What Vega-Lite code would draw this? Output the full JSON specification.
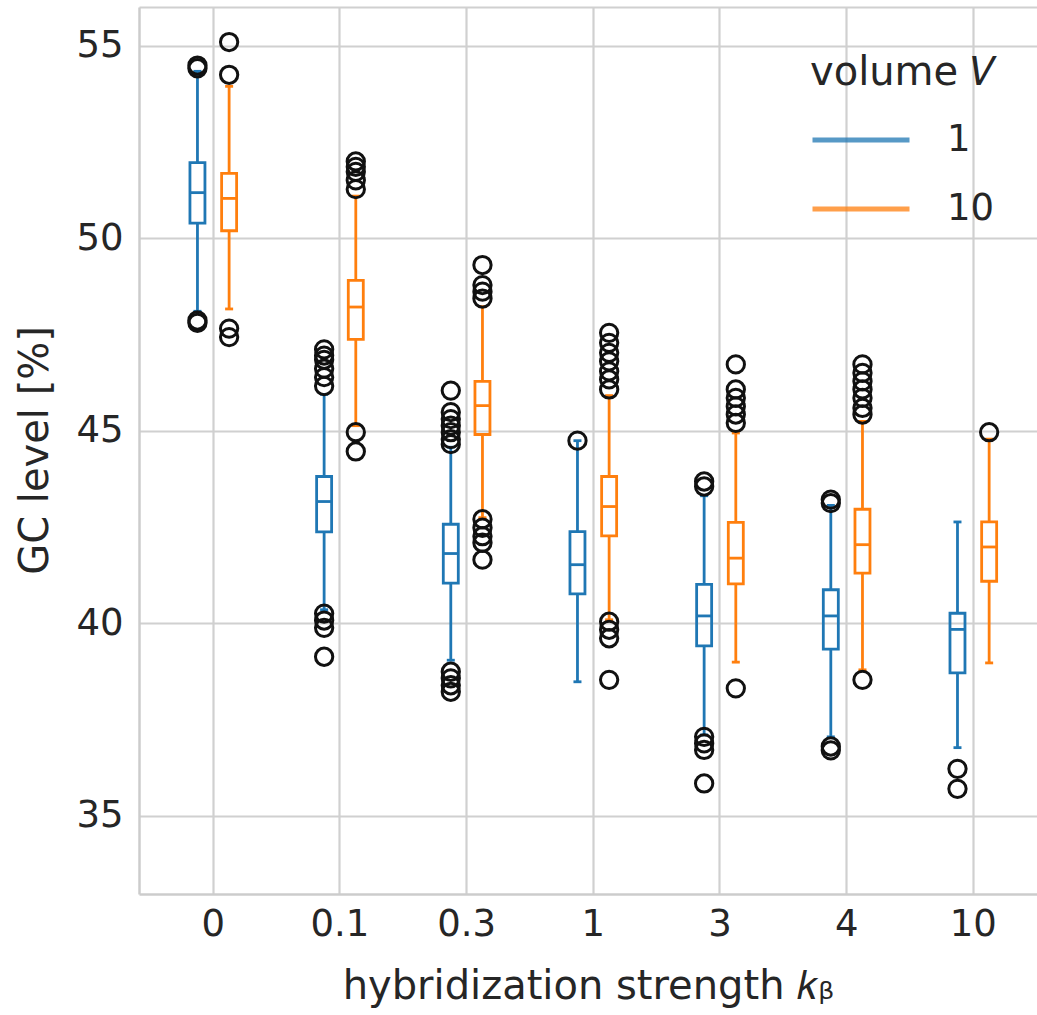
{
  "$schema": "https://vega.github.io/schema/vega-lite/v6.json",
  "width": 898,
  "height": 887,
  "autosize": "none",
  "padding": {"left": 139, "top": 7, "right": 0, "bottom": 121},
  "background": "white",
  "datasets": {
    "boxes": [
      {"k": "0", "V": "1", "lo": 48.1, "q1": 50.39, "med": 51.18, "q3": 51.96, "hi": 54.33},
      {"k": "0", "V": "10", "lo": 48.16, "q1": 50.19, "med": 51.03, "q3": 51.68, "hi": 53.94},
      {"k": "0.1", "V": "1", "lo": 40.35, "q1": 42.37, "med": 43.16, "q3": 43.81, "hi": 45.94},
      {"k": "0.1", "V": "10", "lo": 45.13, "q1": 47.37, "med": 48.21, "q3": 48.9, "hi": 51.09},
      {"k": "0.3", "V": "1", "lo": 39.04, "q1": 41.04, "med": 41.81, "q3": 42.57, "hi": 44.57},
      {"k": "0.3", "V": "10", "lo": 42.74, "q1": 44.9, "med": 45.65, "q3": 46.28, "hi": 48.22},
      {"k": "1", "V": "1", "lo": 38.48, "q1": 40.76, "med": 41.52, "q3": 42.38, "hi": 44.74},
      {"k": "1", "V": "10", "lo": 40.09, "q1": 42.27, "med": 43.03, "q3": 43.81, "hi": 45.91},
      {"k": "3", "V": "1", "lo": 37.1, "q1": 39.41, "med": 40.19, "q3": 41.01, "hi": 43.31},
      {"k": "3", "V": "10", "lo": 38.99, "q1": 41.02, "med": 41.69, "q3": 42.62, "hi": 44.94},
      {"k": "4", "V": "1", "lo": 37.05, "q1": 39.33, "med": 40.19, "q3": 40.87, "hi": 43.06},
      {"k": "4", "V": "10", "lo": 38.79, "q1": 41.3, "med": 42.04, "q3": 42.96, "hi": 45.24},
      {"k": "10", "V": "1", "lo": 36.77, "q1": 38.71, "med": 39.84, "q3": 40.26, "hi": 42.63},
      {"k": "10", "V": "10", "lo": 38.97, "q1": 41.09, "med": 41.98, "q3": 42.63, "hi": 44.78}
    ],
    "outliers": [
      {"k": "0", "V": "1", "y": 54.41}, {"k": "0", "V": "1", "y": 54.48}, {"k": "0", "V": "1", "y": 47.86}, {"k": "0", "V": "1", "y": 47.8},
      {"k": "0", "V": "10", "y": 55.09}, {"k": "0", "V": "10", "y": 54.24}, {"k": "0", "V": "10", "y": 47.65}, {"k": "0", "V": "10", "y": 47.43},
      {"k": "0.1", "V": "1", "y": 47.11}, {"k": "0.1", "V": "1", "y": 46.95}, {"k": "0.1", "V": "1", "y": 46.84}, {"k": "0.1", "V": "1", "y": 46.61}, {"k": "0.1", "V": "1", "y": 46.39}, {"k": "0.1", "V": "1", "y": 46.16},
      {"k": "0.1", "V": "1", "y": 40.25}, {"k": "0.1", "V": "1", "y": 40.07}, {"k": "0.1", "V": "1", "y": 39.88}, {"k": "0.1", "V": "1", "y": 39.13},
      {"k": "0.1", "V": "10", "y": 51.99}, {"k": "0.1", "V": "10", "y": 51.85}, {"k": "0.1", "V": "10", "y": 51.72}, {"k": "0.1", "V": "10", "y": 51.5}, {"k": "0.1", "V": "10", "y": 51.27},
      {"k": "0.1", "V": "10", "y": 44.96}, {"k": "0.1", "V": "10", "y": 44.46},
      {"k": "0.3", "V": "1", "y": 46.04}, {"k": "0.3", "V": "1", "y": 45.48}, {"k": "0.3", "V": "1", "y": 45.3}, {"k": "0.3", "V": "1", "y": 45.13}, {"k": "0.3", "V": "1", "y": 44.96}, {"k": "0.3", "V": "1", "y": 44.78}, {"k": "0.3", "V": "1", "y": 44.65},
      {"k": "0.3", "V": "1", "y": 38.74}, {"k": "0.3", "V": "1", "y": 38.57}, {"k": "0.3", "V": "1", "y": 38.39}, {"k": "0.3", "V": "1", "y": 38.22},
      {"k": "0.3", "V": "10", "y": 49.3}, {"k": "0.3", "V": "10", "y": 48.78}, {"k": "0.3", "V": "10", "y": 48.61}, {"k": "0.3", "V": "10", "y": 48.43},
      {"k": "0.3", "V": "10", "y": 42.7}, {"k": "0.3", "V": "10", "y": 42.48}, {"k": "0.3", "V": "10", "y": 42.26}, {"k": "0.3", "V": "10", "y": 42.09}, {"k": "0.3", "V": "10", "y": 41.65},
      {"k": "1", "V": "1", "y": 44.74},
      {"k": "1", "V": "10", "y": 47.54}, {"k": "1", "V": "10", "y": 47.28}, {"k": "1", "V": "10", "y": 47.02}, {"k": "1", "V": "10", "y": 46.8}, {"k": "1", "V": "10", "y": 46.54}, {"k": "1", "V": "10", "y": 46.33}, {"k": "1", "V": "10", "y": 46.07},
      {"k": "1", "V": "10", "y": 40.04}, {"k": "1", "V": "10", "y": 39.83}, {"k": "1", "V": "10", "y": 39.61}, {"k": "1", "V": "10", "y": 38.53},
      {"k": "3", "V": "1", "y": 43.68}, {"k": "3", "V": "1", "y": 43.55}, {"k": "3", "V": "1", "y": 37.05}, {"k": "3", "V": "1", "y": 36.88}, {"k": "3", "V": "1", "y": 36.71}, {"k": "3", "V": "1", "y": 35.84},
      {"k": "3", "V": "10", "y": 46.72}, {"k": "3", "V": "10", "y": 46.07}, {"k": "3", "V": "10", "y": 45.85}, {"k": "3", "V": "10", "y": 45.63}, {"k": "3", "V": "10", "y": 45.42}, {"k": "3", "V": "10", "y": 45.2}, {"k": "3", "V": "10", "y": 38.31},
      {"k": "4", "V": "1", "y": 43.21}, {"k": "4", "V": "1", "y": 43.12}, {"k": "4", "V": "1", "y": 36.8}, {"k": "4", "V": "1", "y": 36.7},
      {"k": "4", "V": "10", "y": 46.72}, {"k": "4", "V": "10", "y": 46.5}, {"k": "4", "V": "10", "y": 46.28}, {"k": "4", "V": "10", "y": 46.07}, {"k": "4", "V": "10", "y": 45.85}, {"k": "4", "V": "10", "y": 45.59}, {"k": "4", "V": "10", "y": 45.42}, {"k": "4", "V": "10", "y": 38.53},
      {"k": "10", "V": "1", "y": 36.22}, {"k": "10", "V": "1", "y": 35.7},
      {"k": "10", "V": "10", "y": 44.96}
    ]
  },
  "encoding": {
    "x": {
      "field": "k", "type": "nominal",
      "sort": ["0", "0.1", "0.3", "1", "3", "4", "10"],
      "scale": {"domain": ["0", "0.1", "0.3", "1", "3", "4", "10"], "paddingInner": 0, "paddingOuter": 0.0446, "align": 0.969},
      "axis": {"title": "hybridization strength 𝑘ᵦ", "labelAngle": 0, "grid": true, "bandPosition": 0.5, "labelPadding": 12, "titlePadding": 24, "domain": true, "domainColor": "#cccccc", "domainWidth": 2.5}
    },
    "xOffset": {
      "field": "V", "type": "nominal",
      "scale": {"domain": ["1", "10"], "paddingInner": 0, "paddingOuter": 1.436}
    }
  },
  "layer": [
    {
      "data": {"name": "boxes"},
      "mark": {"type": "rule", "strokeWidth": 2.8},
      "encoding": {
        "y": {"field": "lo", "type": "quantitative",
          "scale": {"domain": [32.97, 56.0], "nice": false, "zero": false},
          "axis": {"title": "GC level [%]", "values": [35, 40, 45, 50, 55, 56], "labelExpr": "datum.value > 55.5 ? '' : datum.label", "labelPadding": 16, "titleX": -104, "titleY": 443, "titleAngle": 270, "titleBaseline": "middle", "titleAlign": "center", "domain": true, "domainColor": "#cccccc", "domainWidth": 2.5}},
        "y2": {"field": "q1"},
        "color": {"field": "V", "type": "nominal", "title": "volume 𝑉",
          "scale": {"domain": ["1", "10"], "range": ["#1f77b4", "#ff7f0e"]}}
      }
    },
    {
      "data": {"name": "boxes"},
      "mark": {"type": "rule", "strokeWidth": 2.8},
      "encoding": {
        "y": {"field": "q3", "type": "quantitative"},
        "y2": {"field": "hi"},
        "color": {"field": "V", "type": "nominal", "title": "volume 𝑉"}
      }
    },
    {
      "data": {"name": "boxes"},
      "mark": {"type": "bar", "filled": false, "width": 15, "strokeWidth": 2.8},
      "encoding": {
        "y": {"field": "q1", "type": "quantitative"},
        "y2": {"field": "q3"},
        "color": {"field": "V", "type": "nominal", "title": "volume 𝑉"}
      }
    },
    {
      "data": {"name": "boxes"},
      "mark": {"type": "tick", "orient": "horizontal", "size": 15, "thickness": 2.8, "opacity": 1},
      "encoding": {
        "y": {"field": "med", "type": "quantitative"},
        "color": {"field": "V", "type": "nominal", "title": "volume 𝑉"}
      }
    },
    {
      "data": {"name": "boxes"},
      "mark": {"type": "tick", "orient": "horizontal", "size": 8, "thickness": 2.8, "opacity": 1},
      "encoding": {
        "y": {"field": "lo", "type": "quantitative"},
        "color": {"field": "V", "type": "nominal", "title": "volume 𝑉"}
      }
    },
    {
      "data": {"name": "boxes"},
      "mark": {"type": "tick", "orient": "horizontal", "size": 8, "thickness": 2.8, "opacity": 1},
      "encoding": {
        "y": {"field": "hi", "type": "quantitative"},
        "color": {"field": "V", "type": "nominal", "title": "volume 𝑉"}
      }
    },
    {
      "data": {"name": "outliers"},
      "mark": {"type": "point", "shape": "circle", "filled": false, "stroke": "#111111", "strokeWidth": 3, "size": 300, "opacity": 1},
      "encoding": {
        "y": {"field": "y", "type": "quantitative"}
      }
    }
  ],
  "config": {
    "view": {"stroke": null},
    "axis": {
      "ticks": false,
      "gridColor": "#d0d0d0", "gridWidth": 2.2,
      "labelFont": "DejaVu Sans", "labelFontSize": 37, "labelColor": "#262626",
      "titleFont": "DejaVu Sans", "titleFontSize": 40, "titleFontWeight": "normal", "titleColor": "#262626"
    },
    "legend": {
      "orient": "none", "legendX": 671, "legendY": 46, "padding": 0,
      "symbolType": "stroke", "symbolSize": 9409, "symbolStrokeWidth": 5, "symbolOpacity": 0.75,
      "labelFont": "DejaVu Sans", "labelFontSize": 37, "labelColor": "#262626", "labelOffset": 35,
      "titleFont": "DejaVu Sans", "titleFontSize": 40, "titleFontWeight": "normal", "titleColor": "#262626", "titlePadding": -4, "titleLimit": 500,
      "rowPadding": -28
    }
  }
}
